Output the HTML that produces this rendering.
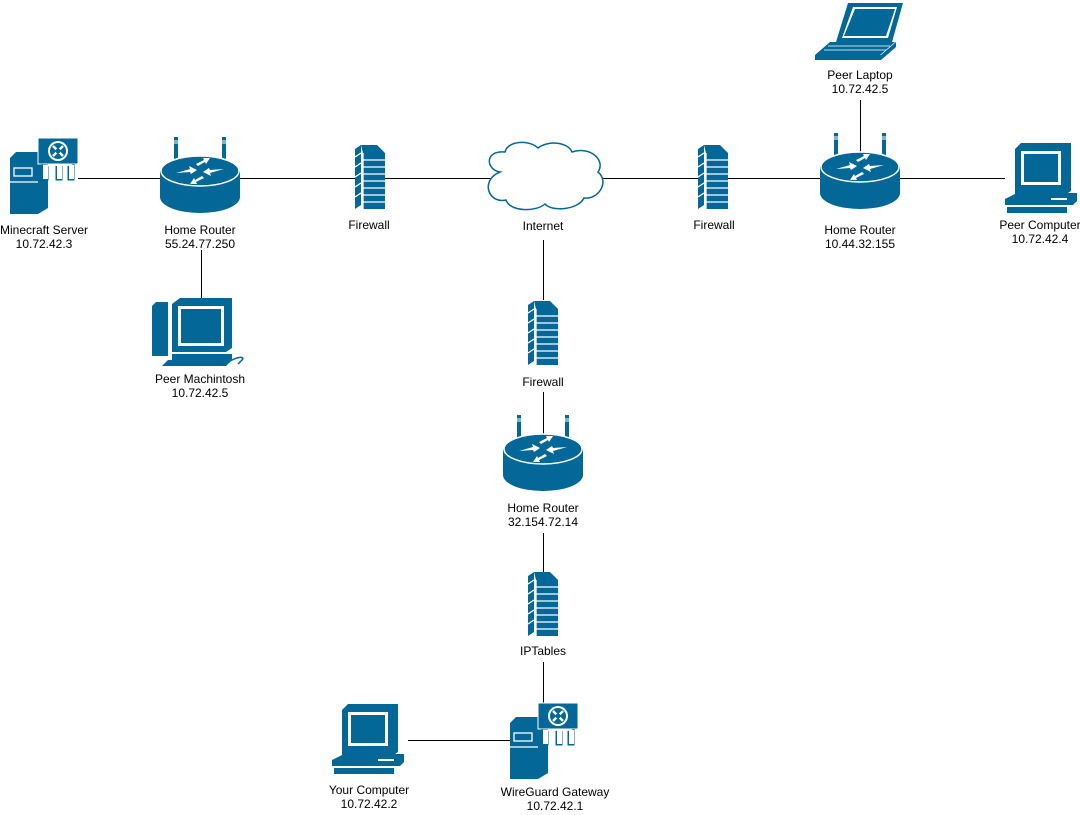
<!DOCTYPE html>
<html><head><meta charset="utf-8"><style>
html,body{margin:0;padding:0;background:#fff;width:1080px;height:815px;overflow:hidden}
svg{display:block}
text{font-family:"Liberation Sans",Arial,sans-serif;font-size:12px;fill:#000;text-anchor:middle}
</style></head><body>
<svg width="1080" height="815" viewBox="0 0 1080 815" xmlns="http://www.w3.org/2000/svg">
<defs>
<g id="router">
 <rect x="14" y="0" width="4" height="30" fill="#036897"/><rect x="14" y="3" width="4" height="4" fill="#fff" opacity=".5"/>
 <rect x="62" y="0" width="4" height="30" fill="#036897"/><rect x="62" y="3" width="4" height="4" fill="#fff" opacity=".5"/>
 <path d="M0,34 L0,60 A40,16 0 0 0 80,60 L80,34 Z" fill="#036897"/>
 <ellipse cx="40" cy="34" rx="39" ry="15" fill="#036897" stroke="#fff" stroke-width="1.5"/>
 <g fill="#fff">
  <path d="M16,36 L30,32 L29,29 L37,33 L31,37 L30,35 Z"/>
  <path d="M64,32 L50,36 L51,39 L43,35 L49,31 L50,33 Z"/>
  <path d="M36,27 L44,23 L43,21 L50,21 L46,27 L45,25 L38,29 Z"/>
  <path d="M44,41 L36,45 L37,47 L30,47 L34,41 L35,43 L42,39 Z"/>
 </g>
</g>
<g id="fw">
 <path d="M0,4 L6,0 L6,60 L0,64 Z" fill="#036897"/>
 <path d="M6,0 L22,0 L30,8 L8,8 Z" fill="#036897"/>
 <rect x="8" y="8" width="22" height="56" fill="#036897"/>
 <g stroke="#fff" stroke-width="1.3">
  <line x1="8" y1="15" x2="30" y2="15"/><line x1="8" y1="22" x2="30" y2="22"/><line x1="8" y1="29" x2="30" y2="29"/>
  <line x1="8" y1="36" x2="30" y2="36"/><line x1="8" y1="43" x2="30" y2="43"/><line x1="8" y1="50" x2="30" y2="50"/><line x1="8" y1="57" x2="30" y2="57"/>
  <line x1="8" y1="8" x2="8" y2="64"/>
  <line x1="0" y1="12" x2="6" y2="8"/><line x1="0" y1="22" x2="6" y2="18"/><line x1="0" y1="32" x2="6" y2="28"/><line x1="0" y1="42" x2="6" y2="38"/><line x1="0" y1="52" x2="6" y2="48"/>
 </g>
</g>
<g id="server">
 <path d="M0,20 L6,14 L28,14 L28,76 L0,76 Z" fill="#036897"/>
 <path d="M28,22 L38,16 L38,70 L28,76 Z" fill="#036897"/>
 <rect x="4" y="30" width="18" height="8" fill="none" stroke="#fff" stroke-width="1.3"/>
 <line x1="0" y1="44" x2="28" y2="44" stroke="#fff" stroke-width="1.3"/>
 <rect x="28" y="0" width="40" height="26" fill="#036897" stroke="#fff" stroke-width="1"/>
 <path d="M32,26 L32,42 L38,42 L38,28 M46,28 L46,42 L52,42 L52,28 M58,28 L58,42 L64,42 L64,26" fill="#036897" stroke="#036897"/>
 <rect x="33" y="27" width="5" height="14" fill="#fff"/><rect x="47" y="27" width="5" height="14" fill="#fff"/><rect x="59" y="27" width="5" height="14" fill="#fff"/>
 <circle cx="48" cy="13" r="10" fill="#fff"/><circle cx="48" cy="13" r="8" fill="#036897"/>
 <g stroke="#fff" stroke-width="2.4"><line x1="43" y1="8" x2="53" y2="18"/><line x1="53" y1="8" x2="43" y2="18"/></g>
 <circle cx="48" cy="13" r="2.5" fill="#036897"/>
</g>
<g id="pc">
 <path d="M12,6 L18,0 L68,0 L68,48 L62,52 L12,52 Z" fill="#036897"/>
 <rect x="18" y="8" width="40" height="34" fill="#fff"/><rect x="21" y="11" width="34" height="28" fill="#036897"/>
 <path d="M2,56 L14,50 L74,50 L74,58 L70,62 L2,62 Z" fill="#036897"/>
 <line x1="48" y1="56" x2="64" y2="56" stroke="#fff" stroke-width="2"/>
 <rect x="4" y="64" width="60" height="6" fill="#036897"/>
</g>
</defs>

<g stroke="#000" stroke-width="1" fill="none" shape-rendering="crispEdges">
 <line x1="78" y1="178.5" x2="1005" y2="178.5"/>
 <line x1="201.5" y1="250" x2="201.5" y2="298"/>
 <line x1="860.5" y1="100" x2="860.5" y2="152"/>
 <line x1="543.5" y1="240" x2="543.5" y2="300"/>
 <line x1="543.5" y1="392" x2="543.5" y2="445"/>
 <line x1="543.5" y1="533" x2="543.5" y2="572"/>
 <line x1="543.5" y1="662" x2="543.5" y2="703"/>
 <line x1="408" y1="740.5" x2="510" y2="740.5"/>
</g>

<use href="#server" x="10" y="138"/>
<text x="44" y="234">Minecraft Server</text><text x="44" y="248">10.72.42.3</text>

<use href="#router" x="160" y="137"/>
<text x="200" y="234">Home Router</text><text x="200" y="248">55.24.77.250</text>

<rect x="355" y="140" width="30" height="70" fill="#fff"/>
<use href="#fw" x="355" y="145"/>
<text x="369" y="229">Firewall</text>

<path d="M500,172 C486,170 484,150 505,152 C508,140 530,140 538,148 C548,140 568,142 572,152 C590,146 606,160 598,172 C610,182 598,200 584,198 C578,210 552,212 545,204 C536,212 510,212 506,200 C488,204 480,180 500,172 Z" fill="#fff" stroke="#036897" stroke-width="1.5"/>
<text x="543" y="230">Internet</text>

<rect x="698" y="140" width="30" height="70" fill="#fff"/>
<use href="#fw" x="698" y="145"/>
<text x="714" y="229">Firewall</text>

<use href="#router" x="820" y="133"/>
<text x="860" y="234">Home Router</text><text x="860" y="248">10.44.32.155</text>

<g fill="#036897">
 <path d="M848,3 L903,3 L892,42 L836,42 Z"/>
 <path d="M853,7 L897,7 L888,38 L842,38 Z" fill="#fff"/>
 <path d="M855,9 L895,9 L886,36 L844,36 Z"/>
 <path d="M830,42 L895,42 L880,55 L815,55 Z"/>
 <rect x="815" y="55" width="66" height="5"/>
 <path d="M881,55 L896,42 L896,47 L881,60 Z"/>
</g>
<g stroke="#fff" stroke-width="0.8"><line x1="828" y1="46" x2="890" y2="46"/><line x1="824" y1="50" x2="886" y2="50"/></g>
<text x="860" y="79">Peer Laptop</text><text x="860" y="93">10.72.42.5</text>

<use href="#pc" x="1003" y="143"/>
<text x="1040" y="229">Peer Computer</text><text x="1040" y="243">10.72.42.4</text>

<g fill="#036897">
 <path d="M152,306 L156,302 L168,302 L168,356 L152,356 Z"/>
 <path d="M172,304 L180,298 L232,298 L232,348 L226,352 L172,352 Z"/>
 <rect x="172" y="354" width="60" height="6"/>
 <path d="M168,360 L232,360 L226,366 L162,366 Z"/>
</g>
<rect x="178" y="306" width="46" height="40" fill="#fff"/><rect x="181" y="309" width="40" height="34" fill="#036897"/>
<path d="M226,364 C236,356 246,356 242,360 L238,364" fill="none" stroke="#036897" stroke-width="1.5"/>
<text x="200" y="383">Peer Machintosh</text><text x="200" y="397">10.72.42.5</text>

<use href="#fw" x="528" y="301"/>
<text x="543" y="386">Firewall</text>

<use href="#router" x="503" y="415"/>
<text x="543" y="512">Home Router</text><text x="543" y="526">32.154.72.14</text>

<use href="#fw" x="528" y="572"/>
<text x="543" y="655">IPTables</text>

<use href="#server" x="510" y="703"/>
<text x="555" y="796">WireGuard Gateway</text><text x="555" y="810">10.72.42.1</text>

<use href="#pc" x="330" y="704"/>
<text x="369" y="794">Your Computer</text><text x="369" y="808">10.72.42.2</text>
</svg>
</body></html>
